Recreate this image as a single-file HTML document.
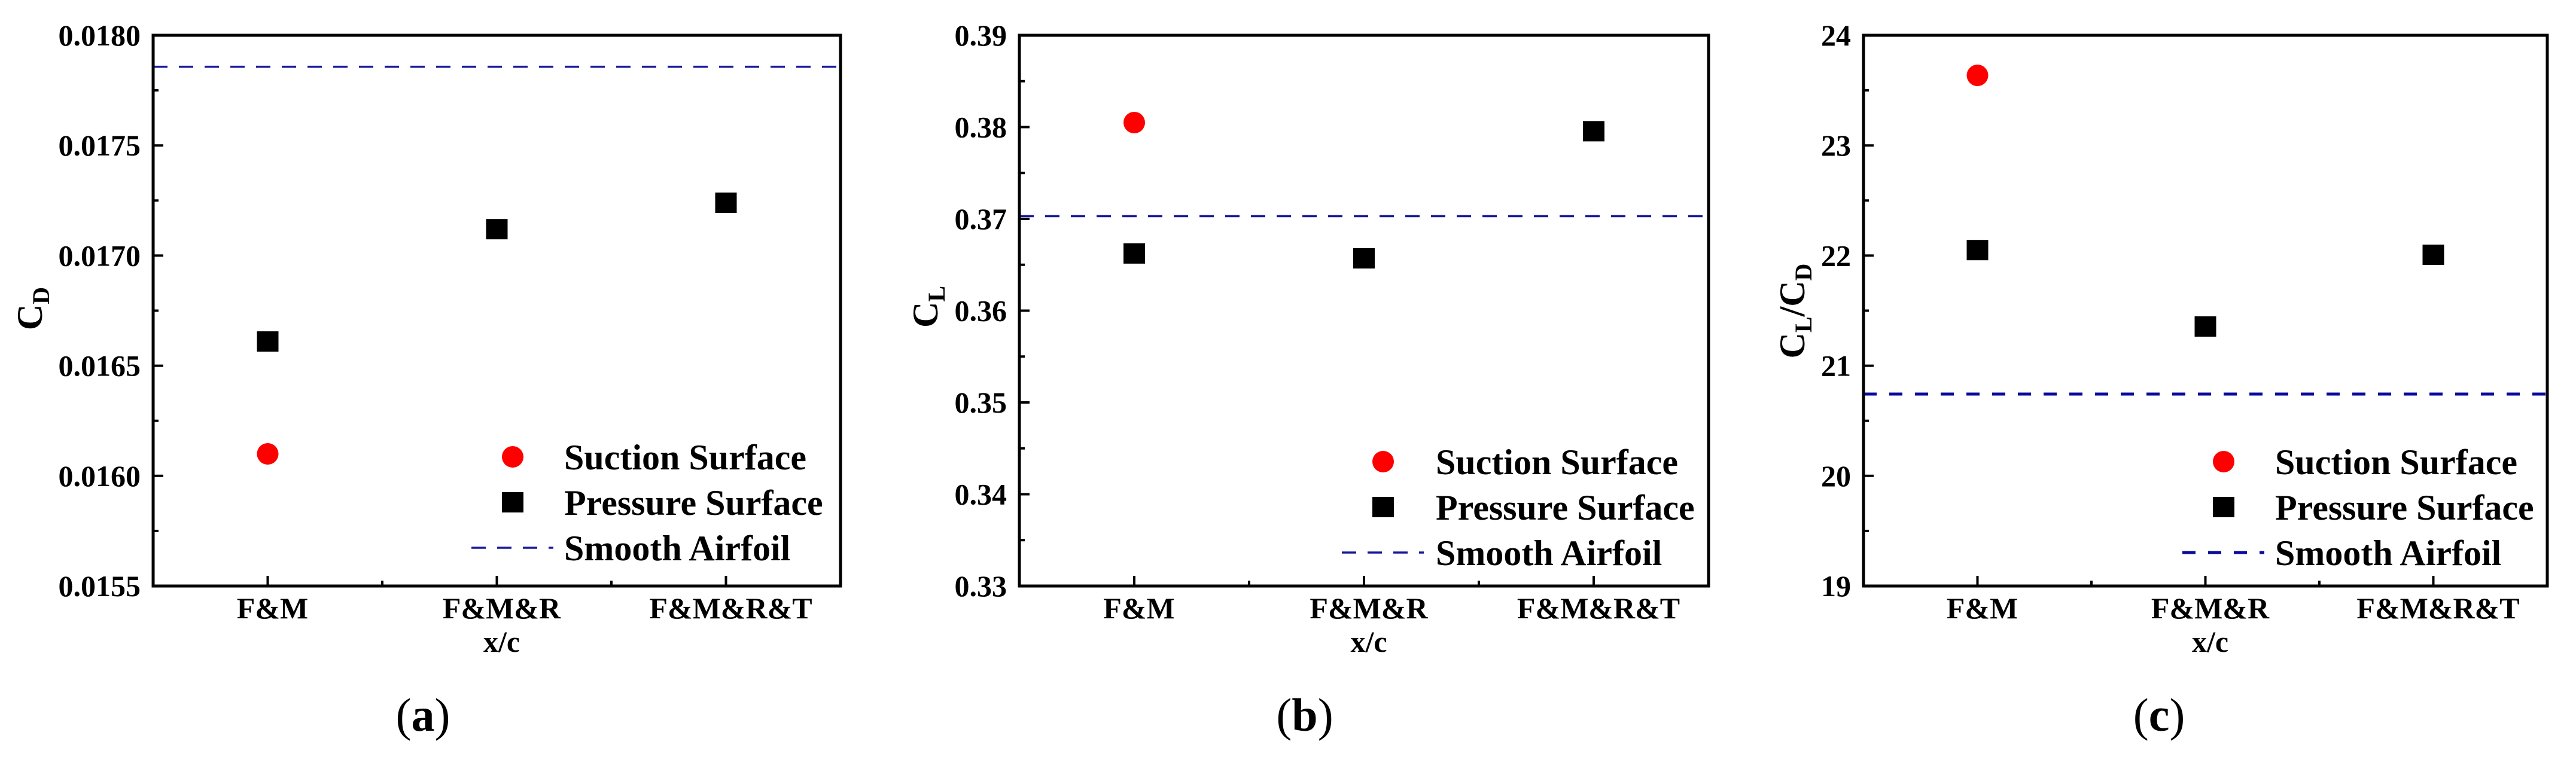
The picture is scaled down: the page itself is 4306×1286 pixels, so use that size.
<!DOCTYPE html>
<html><head><meta charset="utf-8"><style>
html,body{margin:0;padding:0;background:#fff;width:4306px;height:1286px;overflow:hidden}
svg{display:block;font-family:"Liberation Serif","DejaVu Serif",serif}
svg text{font-family:"Liberation Serif","DejaVu Serif",serif !important;fill:#000}
</style></head><body>
<svg id="fig" width="4306" height="1286" viewBox="0 0 4306 1286" xmlns="http://www.w3.org/2000/svg" font-family="Liberation Serif, DejaVu Serif, serif"></svg>
<script>
// ---- data ----
const categories = ["F&M", "F&M&R", "F&M&R&T"];
const cdPressure = [0.01661, 0.01712, 0.01724];
const cdSuction = [0.01610];
const cdSmooth = 0.017857;
const cdTicks = ["0.0155", "0.0160", "0.0165", "0.0170", "0.0175", "0.0180"];
const clPressure = [0.36623, 0.36570, 0.37955];
const clSuction = [0.38049];
const clSmooth = 0.37029;
const clTicks = ["0.33", "0.34", "0.35", "0.36", "0.37", "0.38", "0.39"];
const ldPressure = [22.05, 21.356, 22.007];
const ldSuction = [23.636];
const ldSmooth = 20.743;
const ldTicks = ["19", "20", "21", "22", "23", "24"];
const legendLabels = ["Suction Surface", "Pressure Surface", "Smooth Airfoil"];

const NS = "http://www.w3.org/2000/svg";
const FONT = "'Liberation Serif', 'DejaVu Serif', serif";
const svg = document.getElementById("fig");
function mk(tag, attrs, parent) {
  const e = document.createElementNS(NS, tag);
  for (const k in attrs) e.setAttribute(k, attrs[k]);
  if (tag === "text") e.setAttribute("font-family", FONT);
  (parent || svg).appendChild(e);
  return e;
}

function panel(cfg) {
  const g = mk("g", {});
  
  
  const L = cfg.left, R = cfg.right, T = 59, B = 980;
  const ymin = parseFloat(cfg.ticks[0]), ymax = parseFloat(cfg.ticks[cfg.ticks.length - 1]);
  const xs = v => L + (v - 0.5) / 3 * (R - L);
  const ys = v => B - (v - ymin) / (ymax - ymin) * (B - T);

  const sm = mk("line", {x1: L, x2: R, y1: ys(cfg.smooth), y2: ys(cfg.smooth), stroke: cfg.dashColor, "stroke-width": cfg.dashW, "stroke-dasharray": cfg.dash}, g);
  
  

  const n = cfg.ticks.length;
  for (let i = 0; i < n; i++) {
    const v = parseFloat(cfg.ticks[i]);
    const y = ys(v);
    const tk = mk("line", {x1: L, x2: L + 17, y1: y, y2: y, stroke: "#000", "stroke-width": 4}, g);
    
    
    const t = mk("text", {x: L - 21, y: y + 17, "text-anchor": "end", "font-size": 50, "font-weight": "bold"}, g);
    t.textContent = cfg.ticks[i];
    
    
    if (i < n - 1) {
      const v2 = parseFloat(cfg.ticks[i + 1]);
      const ym = ys((v + v2) / 2);
      const mt = mk("line", {x1: L, x2: L + 9, y1: ym, y2: ym, stroke: "#000", "stroke-width": 4}, g);
      
      
    }
  }
  for (let i = 0; i < categories.length; i++) {
    const x = xs(i + 1);
    const tk = mk("line", {x1: x, x2: x, y1: B, y2: B - 17, stroke: "#000", "stroke-width": 4}, g);
    
    
    const t = mk("text", {x: x + 8, y: 1034, "text-anchor": "middle", "font-size": 50, "font-weight": "bold"}, g);
    t.textContent = categories[i];
    
    
    if (i < categories.length - 1) {
      const xm = xs(i + 1.5);
      const mt = mk("line", {x1: xm, x2: xm, y1: B, y2: B - 9, stroke: "#000", "stroke-width": 4}, g);
      
      
    }
  }
  const fr = mk("rect", {x: L, y: T, width: R - L, height: B - T, fill: "none", stroke: "#000", "stroke-width": 5}, g);
  
  

  const xt = mk("text", {x: xs(2) + 8, y: 1090, "text-anchor": "middle", "font-size": 50, "font-weight": "bold"}, g);
  xt.textContent = "x/c";
  
  

  const yt = mk("text", {x: 0, y: 0, "text-anchor": "middle", "font-size": 60, "font-weight": "bold", transform: "translate(" + cfg.titleX + "," + cfg.titleY + ") rotate(-90)"}, g);
  
  
  cfg.title(yt);

  for (let i = 0; i < cfg.pressure.length; i++) {
    const s = mk("rect", {x: xs(i + 1) - 18, y: ys(cfg.pressure[i]) - 17, width: 36, height: 34, fill: "#000"}, g);
    
    
  }
  for (let i = 0; i < cfg.suction.length; i++) {
    const c = mk("circle", {cx: xs(i + 1), cy: ys(cfg.suction[i]), r: 18, fill: "#ff0000"}, g);
    
    
  }

  const lg = mk("g", {}, g);
  
  
  const lx = cfg.legX, ly = cfg.legY, tx = cfg.legTextX;
  const lc = mk("circle", {cx: lx, cy: ly, r: 18, fill: "#ff0000"}, lg);
  
  
  const ls = mk("rect", {x: lx - 18, y: ly + 76 - 17, width: 36, height: 34, fill: "#000"}, lg);
  
  
  const ll = mk("line", {x1: lx - 69, x2: lx + 68, y1: ly + 152, y2: ly + 152, stroke: cfg.dashColor, "stroke-width": cfg.dashW, "stroke-dasharray": cfg.dash}, lg);
  
  
  for (let k = 0; k < 3; k++) {
    const t = mk("text", {x: tx, y: ly + 21 + 76 * k, "font-size": 60, "font-weight": "bold"}, lg);
    t.textContent = legendLabels[k];
    
    
  }

  const cap = mk("text", {x: cfg.capX, y: 1222, "text-anchor": "middle", "font-size": 78}, g);
  
  
  const p1 = mk("tspan", {}, cap); p1.textContent = "(";
  const p2 = mk("tspan", {"font-weight": "bold"}, cap); p2.textContent = cfg.letter;
  const p3 = mk("tspan", {}, cap); p3.textContent = ")";
}

function sub(el, main, s) {
  const a = mk("tspan", {}, el); a.textContent = main;
  const b = mk("tspan", {"font-size": 40, dy: 12}, el); b.textContent = s;
  return b;
}

panel({name: "panel-a-drag", left: 256, right: 1405, ticks: cdTicks, pressure: cdPressure, suction: cdSuction, smooth: cdSmooth,
  dashColor: "#1a1a9a", dashW: 3.5, dash: "24 19", titleX: 70, titleY: 516,
  title: el => { sub(el, "C", "D"); },
  legX: 857, legY: 764, legTextX: 943, capX: 707, letter: "a"});
panel({name: "panel-b-lift", left: 1704, right: 2856, ticks: clTicks, pressure: clPressure, suction: clSuction, smooth: clSmooth,
  dashColor: "#1a1a9a", dashW: 3.5, dash: "24 19", titleX: 1567, titleY: 513,
  title: el => { sub(el, "C", "L"); },
  legX: 2312, legY: 772, legTextX: 2400, capX: 2181, letter: "b"});
panel({name: "panel-c-lift-drag-ratio", left: 3115, right: 4258, ticks: ldTicks, pressure: ldPressure, suction: ldSuction, smooth: ldSmooth,
  dashColor: "#0a0a9c", dashW: 5, dash: "22 21", titleX: 3016, titleY: 520,
  title: el => { sub(el, "C", "L"); const c = mk("tspan", {dy: -12}, el); c.textContent = "/C"; const d = mk("tspan", {"font-size": 40, dy: 12}, el); d.textContent = "D"; },
  legX: 3717, legY: 772, legTextX: 3803, capX: 3609, letter: "c"});
</script>
</body></html>
